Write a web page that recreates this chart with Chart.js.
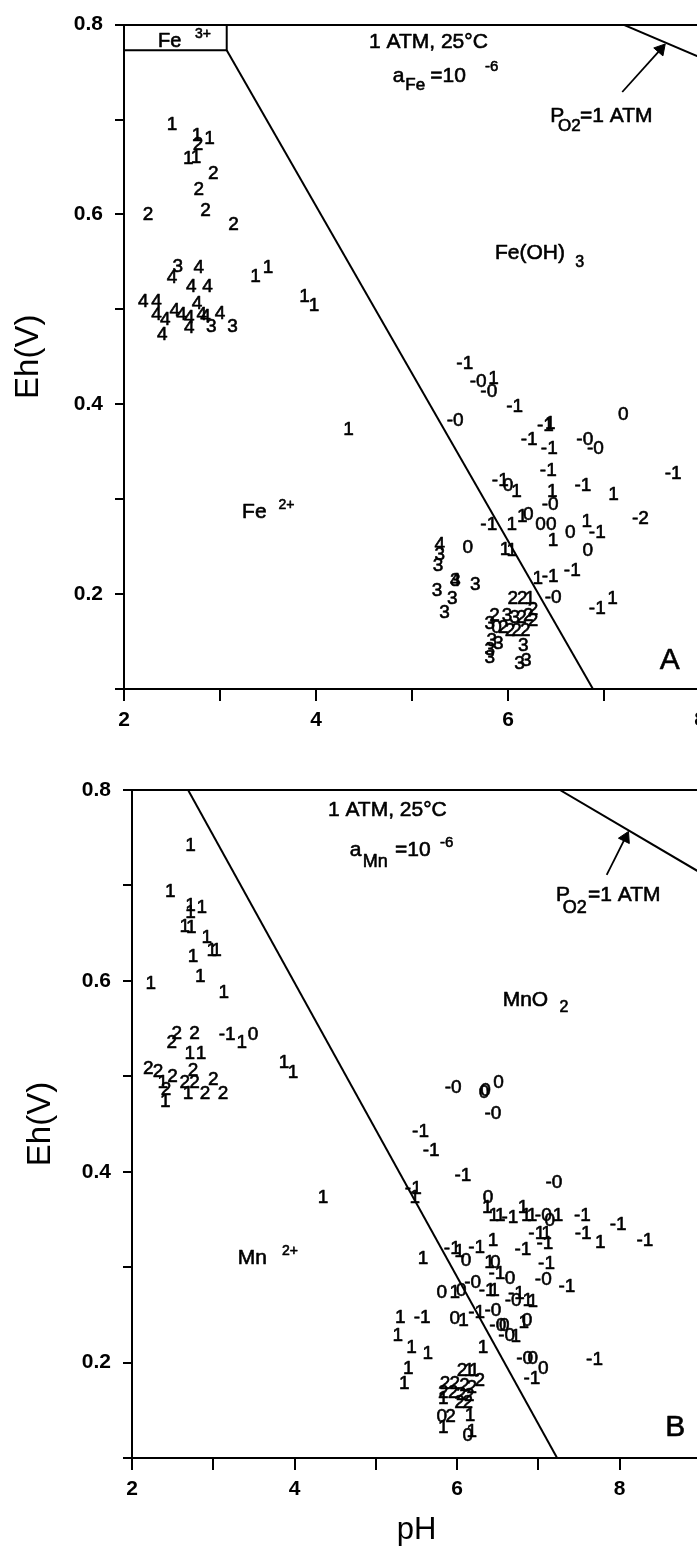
<!DOCTYPE html>
<html>
<head>
<meta charset="utf-8">
<script src="https://cdn.jsdelivr.net/npm/chart.js@4.4.1/dist/chart.umd.min.js"></script>
<style>
html, body { margin: 0; padding: 0; background: #fff; overflow: hidden; width: 697px; height: 1549px; }
canvas { position: absolute; left: 0; }
#chartA { top: 0; }
#chartB { top: 732px; }
</style>
</head>
<body>
<canvas id="chartA" width="720" height="732"></canvas>
<canvas id="chartB" width="720" height="817"></canvas>
<script>
// Etiquetas de los ejes
const phTicks = [2, 4, 6, 8];
const ehTicks = [0.2, 0.4, 0.6, 0.8];

// Muestras del diagrama A (Fe): pH, Eh y el índice que se escribe en cada punto
const phA = [2.50, 2.76, 2.89, 2.77, 2.67, 2.75, 2.93, 2.78, 2.25, 2.85, 3.14, 2.56, 2.78, 2.50, 2.70, 2.87,
    3.37, 3.50, 3.88, 3.98, 2.20, 2.34, 2.34, 2.43, 2.40, 2.53, 2.60, 2.68, 2.68, 2.76, 2.81, 2.85, 3.00, 2.91, 3.13,
    4.34, 5.55, 5.69, 5.85, 5.80, 6.07, 5.45, 7.20, 6.39, 6.44, 6.22, 6.43, 6.80, 6.91, 6.42, 7.72, 5.92, 6.00, 6.09,
    6.46, 6.78, 7.10, 6.44, 5.80, 6.04, 6.15, 6.21, 6.34, 6.45, 7.38, 6.82, 6.93, 6.65, 6.47, 6.83, 5.29, 5.29, 5.27,
    5.58, 5.97, 6.04, 6.31, 6.44, 6.67, 6.47, 6.93, 7.09, 5.45, 5.45, 5.66, 5.26, 5.42, 5.34,
    6.05, 6.15, 6.23, 6.26, 5.86, 5.99, 6.07, 6.14, 6.21, 6.26, 5.81, 5.88, 5.95, 6.02, 6.09, 6.18, 5.83, 5.90, 5.81,
    5.81, 6.16, 6.12, 6.19];
const ehA = [0.694, 0.683, 0.680, 0.673, 0.659, 0.660, 0.643, 0.626, 0.600, 0.604, 0.589, 0.545, 0.544, 0.533, 0.524, 0.524,
    0.534, 0.544, 0.513, 0.504, 0.508, 0.508, 0.494, 0.489, 0.473, 0.498, 0.494, 0.491, 0.481, 0.506, 0.494, 0.492, 0.495, 0.482, 0.482,
    0.373, 0.443, 0.424, 0.427, 0.413, 0.397, 0.383, 0.389, 0.377, 0.379, 0.363, 0.353, 0.363, 0.353, 0.330, 0.327, 0.319, 0.314, 0.308,
    0.308, 0.314, 0.305, 0.294, 0.273, 0.273, 0.281, 0.284, 0.273, 0.273, 0.279, 0.276, 0.265, 0.265, 0.256, 0.246, 0.252, 0.241, 0.230,
    0.249, 0.247, 0.246, 0.216, 0.218, 0.225, 0.196, 0.185, 0.195, 0.214, 0.214, 0.210, 0.203, 0.195, 0.180,
    0.195, 0.195, 0.195, 0.184, 0.177, 0.177, 0.175, 0.175, 0.177, 0.172, 0.169, 0.165, 0.165, 0.161, 0.161, 0.161, 0.151, 0.148, 0.141,
    0.133, 0.146, 0.127, 0.130];
const tagA = ['1', '1', '1', '2', '1', '1', '2', '2', '2', '2', '2', '3', '4', '4', '4', '4',
    '1', '1', '1', '1', '4', '4', '4', '4', '4', '4', '4', '4', '4', '4', '4', '4', '4', '3', '3',
    '1', '-1', '-0', '1', '-0', '-1', '-0', '0', '-1', '1', '-1', '-1', '-0', '-0', '-1', '-1', '-1', '0', '1',
    '1', '-1', '1', '-0', '-1', '1', '1', '0', '0', '0', '-2', '1', '-1', '0', '1', '0', '4', '3', '3',
    '0', '1', '1', '1', '-1', '-1', '-0', '-1', '1', '3', '4', '3', '3', '3', '3',
    '2', '2', '1', '2', '2', '3', '3', '2', '2', '2', '3', '0', '2', '2', '2', '2', '3', '3', '3',
    '3', '3', '3', '3'];

// Muestras del diagrama B (Mn)
const phB = [2.72, 2.47, 2.72, 2.86, 2.72, 2.65, 2.73, 2.92, 2.98, 3.04, 2.75, 2.84, 2.23, 3.13, 2.55, 2.77, 2.49,
    2.71, 2.85, 3.17, 3.35, 3.49, 3.87, 3.98, 2.20, 2.32, 2.50, 2.75, 2.65, 2.77, 3.00, 2.90, 3.12, 2.38, 2.42, 2.41, 2.69,
    4.35, 5.95, 6.33, 6.35, 6.51, 6.44, 5.55, 5.68, 6.07, 7.19, 5.46, 5.48, 6.38, 6.37, 6.45, 6.53, 6.65, 6.81, 6.85,
    6.92, 7.06, 7.24, 7.14, 7.54, 7.98, 7.55, 7.76, 8.31, 6.98, 7.10, 6.81, 7.08, 7.10, 5.94, 6.03, 6.11, 6.24, 6.44,
    5.58, 6.40, 6.47, 6.49, 6.65, 7.06, 7.35, 5.81, 5.97, 6.05, 6.19, 6.37, 6.46, 6.73, 6.69, 6.87, 6.93, 5.30, 5.27,
    5.57, 5.97, 6.08, 6.24, 6.44, 6.50, 6.58, 6.82, 6.86, 6.61, 6.72, 5.44, 5.64, 6.32, 6.83, 6.93, 7.06, 7.69, 6.92,
    5.40, 5.35, 6.06, 6.15, 6.21, 5.85, 5.97, 6.09, 6.18, 6.28, 5.83, 5.95, 6.05, 6.15, 6.03, 6.13, 5.83, 5.81, 5.92,
    5.83, 6.16, 6.13, 6.18];
const ehB = [0.742, 0.693, 0.679, 0.677, 0.671, 0.657, 0.656, 0.645, 0.632, 0.632, 0.625, 0.604, 0.597, 0.588, 0.545, 0.545, 0.535,
    0.524, 0.524, 0.543, 0.535, 0.543, 0.514, 0.504, 0.508, 0.505, 0.499, 0.506, 0.493, 0.493, 0.496, 0.482, 0.482, 0.493, 0.486, 0.473, 0.482,
    0.373, 0.488, 0.483, 0.485, 0.493, 0.461, 0.442, 0.422, 0.396, 0.388, 0.382, 0.373, 0.373, 0.362, 0.354, 0.354, 0.352, 0.362, 0.354,
    0.354, 0.354, 0.354, 0.349, 0.354, 0.344, 0.335, 0.326, 0.328, 0.335, 0.335, 0.318, 0.325, 0.304, 0.319, 0.316, 0.307, 0.320, 0.328,
    0.309, 0.305, 0.305, 0.293, 0.288, 0.287, 0.279, 0.273, 0.273, 0.275, 0.284, 0.275, 0.275, 0.272, 0.265, 0.265, 0.264, 0.247, 0.228,
    0.247, 0.246, 0.244, 0.252, 0.254, 0.239, 0.239, 0.242, 0.244, 0.228, 0.227, 0.216, 0.209, 0.216, 0.204, 0.204, 0.193, 0.203, 0.183,
    0.193, 0.178, 0.191, 0.191, 0.191, 0.178, 0.178, 0.176, 0.174, 0.181, 0.168, 0.168, 0.166, 0.165, 0.158, 0.158, 0.162, 0.143, 0.143,
    0.132, 0.144, 0.123, 0.128];
const tagB = ['1', '1', '1', '1', '1', '1', '1', '1', '1', '1', '1', '1', '1', '1', '2', '2', '2',
    '1', '1', '-1', '1', '0', '1', '1', '2', '2', '2', '2', '2', '2', '2', '2', '2', '1', '2', '1', '1',
    '1', '-0', '0', '0', '0', '-0', '-1', '-1', '-1', '-0', '-1', '1', '0', '1', '1', '1', '-1', '1', '1',
    '1', '-0', '1', '0', '-1', '-1', '-1', '1', '-1', '-1', '1', '-1', '-1', '-1', '-1', '1', '0', '-1', '1',
    '1', '1', '0', '-1', '0', '-0', '-1', '0', '1', '0', '-0', '-1', '1', '-1', '-0', '1', '1', '1', '1',
    '-1', '0', '1', '-1', '-0', '-0', '0', '1', '0', '-0', '1', '1', '1', '1', '-0', '0', '0', '-1', '-1',
    '1', '1', '2', '1', '1', '2', '2', '2', '2', '2', '2', '2', '2', '2', '2', '2', '1', '0', '2',
    '1', '1', '0', '1'];

// Límites de estabilidad [pH, Eh]
const cajaFe3 = [[2, 0.773], [3.07, 0.773], [3.07, 0.8]];
const limiteFe = [[3.07, 0.773], [6.885, 0.1]];
const oxigenoA = [[7.20, 0.8], [8, 0.7656]];
const flechaA = [[7.19, 0.729], [7.59, 0.774]];
const limiteMn = [[2.69, 0.8], [7.23, 0.1]];
const oxigenoB = [[7.264, 0.8], [9, 0.713]];
const flechaB = [[7.84, 0.711], [8.07, 0.750]];

const fuente = '"Liberation Sans", Arial, Helvetica, sans-serif';

function aPuntos(lista) {
    return lista.map(p => ({x: p[0], y: p[1]}));
}

function crearDiagrama(id, cfg) {
    const ctx = document.getElementById(id).getContext('2d');

    const lineas = cfg.lineas.map(l => ({
        data: aPuntos(l),
        showLine: true,
        borderColor: '#000',
        borderWidth: 2,
        pointRadius: 0
    }));

    const flecha = {
        data: aPuntos(cfg.flecha),
        showLine: true,
        borderColor: '#000',
        borderWidth: 1.8,
        pointRadius: [0, 7],
        pointStyle: 'triangle',
        pointRotation: [0, cfg.giroFlecha],
        pointBackgroundColor: '#000',
        pointBorderColor: '#000',
        pointBorderWidth: 1
    };

    // texto un poco más grueso, como el de la impresión original
    function escribir(c, t, x, y) {
        c.strokeText(t, x, y);
        c.fillText(t, x, y);
    }

    // Escribe el índice de cada muestra y los rótulos del diagrama
    const textos = {
        id: 'textos',
        afterDatasetsDraw(chart) {
            const c = chart.ctx;
            const {x, y} = chart.scales;
            c.save();
            c.fillStyle = '#000';
            c.strokeStyle = '#000';
            c.lineWidth = 0.6;
            c.lineJoin = 'round';
            c.textAlign = 'center';
            c.textBaseline = 'middle';
            c.font = '19px ' + fuente;
            chart.getDatasetMeta(0).data.forEach((pt, i) => {
                escribir(c, cfg.tags[i], pt.x, pt.y);
            });
            c.textAlign = 'left';
            cfg.notas.forEach(n => {
                c.font = (n.s || 21) + 'px ' + fuente;
                escribir(c, n.t, x.getPixelForValue(n.ph), y.getPixelForValue(n.eh));
            });
            c.restore();
        }
    };

    new Chart(ctx, {
        type: 'scatter',
        data: {
            datasets: [
                {data: cfg.ph.map((v, i) => ({x: v, y: cfg.eh[i]})), pointRadius: 0},
                ...lineas,
                flecha
            ]
        },
        options: {
            responsive: false,
            animation: false,
            events: [],
            layout: {padding: {top: cfg.arriba, right: cfg.derecha, left: 0, bottom: 0}},
            plugins: {legend: {display: false}, tooltip: {enabled: false}},
            scales: {
                x: {
                    type: 'linear',
                    min: 2,
                    max: cfg.phMax,
                    afterFit: s => { s.height = cfg.altoX; },
                    border: {display: true, color: '#000', width: 2},
                    grid: {drawOnChartArea: false, tickLength: 12, tickColor: '#000', lineWidth: 2},
                    ticks: {
                        stepSize: 1,
                        autoSkip: false,
                        maxRotation: 0,
                        padding: 7,
                        color: '#000',
                        font: {family: fuente, size: 21, weight: 'bold'},
                        callback: v => phTicks.includes(v) ? String(v) : ''
                    },
                    title: {
                        display: cfg.tituloX,
                        text: 'pH',
                        color: '#000',
                        font: {family: fuente, size: 31},
                        padding: {top: 0, bottom: 0}
                    }
                },
                y: {
                    type: 'linear',
                    min: 0.1,
                    max: 0.8,
                    afterFit: s => { s.width = cfg.anchoY; },
                    border: {display: true, color: '#000', width: 2},
                    grid: {
                        drawOnChartArea: true,
                        tickLength: 9,
                        tickColor: '#000',
                        lineWidth: 2,
                        // solo la línea superior del marco cruza el área
                        color: c => (c.tick && Math.abs(c.tick.value - 0.8) < 1e-6) ? '#000' : 'rgba(0,0,0,0)'
                    },
                    ticks: {
                        stepSize: 0.1,
                        padding: 12,
                        color: '#000',
                        font: {family: fuente, size: 21, weight: 'bold'},
                        callback: v => {
                            const t = ehTicks.find(e => Math.abs(e - v) < 1e-6);
                            return t === undefined ? '' : t.toFixed(1);
                        }
                    },
                    title: {
                        display: true,
                        text: 'Eh(V)',
                        color: '#000',
                        font: {family: fuente, size: 33},
                        padding: {top: cfg.margenTitulo, bottom: 0}
                    }
                }
            }
        },
        plugins: [textos]
    });
}

document.addEventListener('DOMContentLoaded', function() {
    crearDiagrama('chartA', {
        ph: phA, eh: ehA, tags: tagA,
        lineas: [cajaFe3, limiteFe, oxigenoA],
        flecha: flechaA, giroFlecha: 41,
        phMax: 8, arriba: 15, derecha: 20, altoX: 43, anchoY: 124,
        margenTitulo: 9, tituloX: false,
        notas: [
            {t: 'Fe', ph: 2.354, eh: 0.782, s: 20},
            {t: '3+', ph: 2.74, eh: 0.790, s: 14},
            {t: '1 ATM, 25°C', ph: 4.552, eh: 0.781},
            {t: 'a', ph: 4.80, eh: 0.746},
            {t: 'Fe', ph: 4.93, eh: 0.736, s: 17},
            {t: '=10', ph: 5.19, eh: 0.746},
            {t: '-6', ph: 5.76, eh: 0.755, s: 15},
            {t: 'P', ph: 6.44, eh: 0.704},
            {t: 'O2', ph: 6.52, eh: 0.693, s: 17},
            {t: '=1 ATM', ph: 6.75, eh: 0.704},
            {t: 'Fe(OH)', ph: 5.865, eh: 0.559},
            {t: '3', ph: 6.70, eh: 0.549, s: 16},
            {t: 'Fe', ph: 3.23, eh: 0.286},
            {t: '2+', ph: 3.61, eh: 0.294, s: 14},
            {t: 'A', ph: 7.58, eh: 0.130, s: 30}
        ]
    });

    crearDiagrama('chartB', {
        ph: phB, eh: ehB, tags: tagB,
        lineas: [limiteMn, oxigenoB],
        flecha: flechaB, giroFlecha: 26,
        phMax: 9, arriba: 58, derecha: 19, altoX: 91, anchoY: 132,
        margenTitulo: 21, tituloX: true,
        notas: [
            {t: '1 ATM, 25°C', ph: 4.41, eh: 0.779},
            {t: 'a', ph: 4.68, eh: 0.737},
            {t: 'Mn', ph: 4.84, eh: 0.724, s: 18},
            {t: '=10', ph: 5.235, eh: 0.737},
            {t: '-6', ph: 5.79, eh: 0.745, s: 15},
            {t: 'P', ph: 7.215, eh: 0.690},
            {t: 'O2', ph: 7.30, eh: 0.676, s: 18},
            {t: '=1 ATM', ph: 7.61, eh: 0.690},
            {t: 'MnO', ph: 6.56, eh: 0.580},
            {t: '2', ph: 7.26, eh: 0.572, s: 16},
            {t: 'Mn', ph: 3.30, eh: 0.309},
            {t: '2+', ph: 3.845, eh: 0.317, s: 14},
            {t: 'B', ph: 8.56, eh: 0.132, s: 30}
        ]
    });
});
</script>
</body>
</html>
